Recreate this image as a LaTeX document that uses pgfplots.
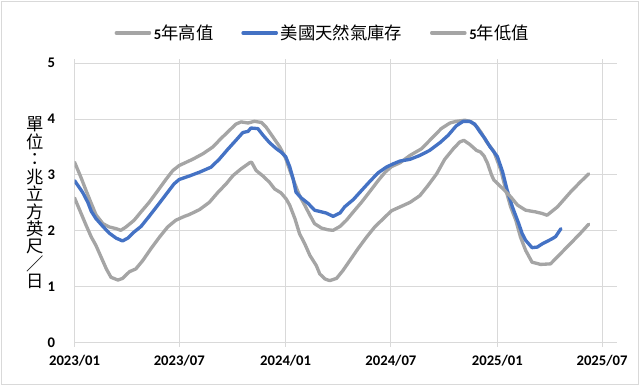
\documentclass[border=0pt]{standalone}
\usepackage{fontspec}
\setmainfont{Carlito}
\newfontfamily\cjk{Noto Sans CJK TC}
\usepackage{pgfplots}
\pgfplotsset{compat=1.18}
\definecolor{sgray}{HTML}{A5A5A5}
\definecolor{sblue}{HTML}{4472C4}
\definecolor{gridc}{HTML}{D9D9D9}

\begin{document}
\begin{tikzpicture}
\begin{axis}[
  at={(0pt,0pt)}, anchor=south west,
  scale only axis, width=406.9pt, height=209.6pt,
  xmin=0, xmax=938, ymin=0, ymax=5,
  xtick={0,181,365,547,731,912},
  xticklabels={2023/01,2023/07,2024/01,2024/07,2025/01,2025/07},
  ytick={0,1,2,3,4,5},
  grid=major, major grid style={gridc, line width=0.75pt},
  axis line style={draw=none},
  tick align=outside, major tick length=3pt,
  xtick style={gridc, line width=0.75pt},
  ytick style={draw=none},
  /pgf/number format/assume math mode=true,
  ticklabel style={font=\bfseries\fontsize{11}{13}\selectfont, text=black},
  xticklabel style={anchor=base, inner sep=0pt, yshift=-14pt},
  yticklabel style={anchor=east, inner sep=0pt, xshift=-11.4pt},
  legend style={draw=none, fill=none, at={(0.458,1)}, anchor=center, yshift=22.7pt,
    font=\fontsize{13}{15}\selectfont, inner sep=0pt,
    /tikz/every even column/.append style={column sep=19pt}},
  legend columns=3, legend cell align=left,
  legend image code/.code={\draw[#1, line width=2.5pt] (0pt,0pt) -- (25pt,0pt);},
  every axis plot/.append style={line width=2.5pt, line join=round, line cap=round},
]
% 5-year high
\addplot[sgray] coordinates {
(0,3.23) (11,2.96) (20,2.72) (29,2.49) (37,2.29) (49,2.13) (60,2.07) (72,2.04) (80,2.01) (89,2.07)
(103,2.19) (115,2.34) (129,2.51) (144,2.72) (158,2.92) (170,3.08) (181,3.17) (204,3.28) (222,3.38)
(239,3.50) (253,3.65) (268,3.80) (279,3.91) (288,3.95) (300,3.93) (311,3.96) (323,3.94) (331,3.86)
(343,3.68) (355,3.50) (365,3.30) (372,3.09) (381,2.84) (389,2.63) (398,2.46) (407,2.28) (415,2.13)
(427,2.05) (438,2.02) (447,2.01) (459,2.08) (470,2.19) (482,2.34) (496,2.51) (511,2.71) (525,2.90)
(537,3.05) (548,3.15) (563,3.22) (580,3.35) (600,3.47) (617,3.65) (634,3.83) (649,3.93) (660,3.96)
(675,3.98) (686,3.95) (696,3.86) (703,3.76) (712,3.60) (725,3.42) (737,3.09) (745,2.76) (754,2.43)
(763,2.19) (771,1.89) (780,1.65) (791,1.44) (806,1.40) (823,1.41) (840,1.59) (858,1.78) (874,1.95) (889,2.12)
};
\addlegendentry{{\fontsize{11}{13}\selectfont\bfseries 5}{\cjk 年高值}}
% storage
\addplot[sblue] coordinates {
(0,2.90) (14,2.69) (23,2.51) (29,2.35) (37,2.22) (49,2.08) (60,1.96) (72,1.87) (83,1.82) (92,1.87)
(103,1.98) (115,2.08) (129,2.26) (144,2.46) (158,2.65) (172,2.84) (181,2.92) (198,2.98) (216,3.05)
(236,3.14) (250,3.28) (265,3.46) (279,3.62) (291,3.76) (300,3.78) (305,3.84) (317,3.83) (326,3.71)
(337,3.58) (349,3.47) (357,3.41) (365,3.33) (372,3.15) (378,2.93) (383,2.69) (392,2.59) (404,2.49)
(415,2.37) (427,2.34) (435,2.32) (447,2.26) (459,2.32) (467,2.43) (482,2.56) (496,2.72) (511,2.89)
(525,3.04) (539,3.14) (551,3.20) (563,3.25) (580,3.28) (597,3.35) (614,3.44) (632,3.58) (646,3.71)
(660,3.88) (672,3.96) (683,3.96) (692,3.91) (701,3.77) (709,3.66) (718,3.51) (726,3.40) (731,3.33)
(740,3.06) (748,2.73) (757,2.43) (768,2.13) (774,1.95) (780,1.83) (791,1.70) (800,1.71) (809,1.77)
(826,1.86) (832,1.90) (841,2.04)
};
\addlegendentry{{\cjk 美國天然氣庫存}}
% 5-year low
\addplot[sgray] coordinates {
(0,2.59) (9,2.37) (20,2.10) (29,1.89) (37,1.74) (46,1.53) (55,1.32) (63,1.17) (75,1.12) (83,1.15)
(95,1.27) (106,1.32) (118,1.47) (132,1.68) (147,1.89) (161,2.07) (175,2.19) (190,2.26) (198,2.29)
(216,2.38) (233,2.51) (248,2.69) (262,2.84) (274,2.99) (288,3.11) (303,3.22) (306,3.23) (314,3.08)
(326,2.98) (337,2.87) (346,2.75) (357,2.68) (366,2.57) (372,2.46) (381,2.22) (389,1.95) (398,1.77)
(407,1.56) (418,1.38) (424,1.23) (433,1.14) (441,1.11) (453,1.15) (464,1.29) (476,1.47) (490,1.68)
(505,1.89) (519,2.07) (534,2.22) (548,2.36) (563,2.43) (580,2.51) (597,2.63) (611,2.81) (626,3.02)
(640,3.28) (655,3.47) (666,3.59) (673,3.62) (683,3.55) (695,3.44) (702,3.41) (708,3.34) (714,3.21)
(721,3.00) (725,2.91) (734,2.82) (743,2.73) (754,2.61) (766,2.46) (780,2.37) (797,2.34) (809,2.31)
(817,2.28) (835,2.43) (858,2.70) (874,2.87) (889,3.02)
};
\addlegendentry{{\fontsize{11}{13}\selectfont\bfseries 5}{\cjk 年低值}}
\end{axis}
\node[font={\cjk\fontsize{13}{13.1}\selectfont}, align=center, inner sep=0pt] at (-29.6pt,104.8pt)
  {單\\位\\：\\兆\\立\\方\\英\\尺\\／\\日};
\pgfresetboundingbox
\path[use as bounding box] (-55.9pt,-32.5pt) rectangle (424.1pt,257pt);
\draw[gridc, line width=0.9pt] (-54.8pt,-31.4pt) rectangle (423pt,255.9pt);
\end{tikzpicture}
\end{document}
